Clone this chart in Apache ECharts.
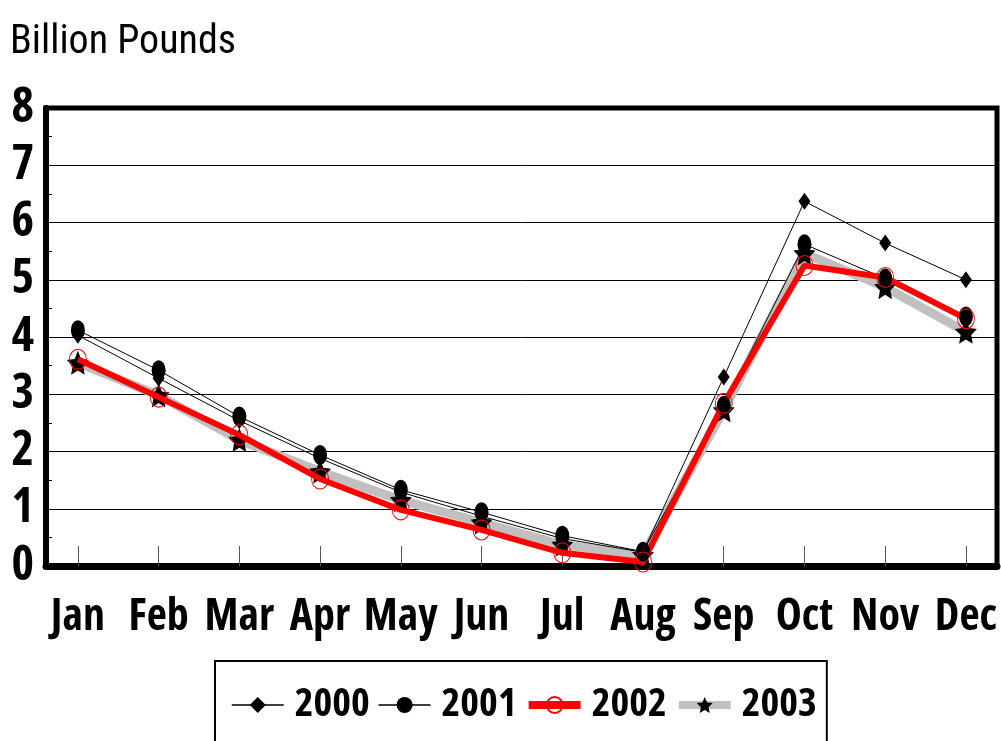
<!DOCTYPE html>
<html>
<head>
<meta charset="utf-8">
<script src="https://cdn.jsdelivr.net/npm/echarts@6/dist/echarts.min.js"></script>
<style>
  html, body { margin: 0; padding: 0; background: #fff; }
  #chart { width: 1001px; height: 741px; }
</style>
</head>
<body>
<div id="chart"></div>
<script>
const months = ['Jan', 'Feb', 'Mar', 'Apr', 'May', 'Jun', 'Jul', 'Aug', 'Sep', 'Oct', 'Nov', 'Dec']
const yearNames = ['2000', '2001', '2002', '2003']
const y2000 = [4.03, 3.28, 2.54, 1.88, 1.29, 0.87, 0.48, 0.24, 3.30, 6.37, 5.64, 5.00]
const y2001 = [4.12, 3.42, 2.61, 1.94, 1.33, 0.94, 0.53, 0.25, 2.80, 5.62, 5.02, 4.36]
const y2002 = [3.61, 2.95, 2.29, 1.52, 0.98, 0.63, 0.23, 0.07, 2.84, 5.25, 5.04, 4.32]
const y2003 = [3.55, 2.98, 2.20, 1.65, 1.15, 0.76, 0.37, 0.19, 2.72, 5.46, 4.87, 4.09]
const yTicks = [0, 1, 2, 3, 4, 5, 6, 7, 8]

// narrow faces: the variable fonts accept the css "condensed" stretch keyword
const BOLD_NARROW = { fontFamily: "'Open Sans', sans-serif", fontWeight: 'bold condensed' }
const NARROW = { fontFamily: "Roboto, sans-serif", fontWeight: 'normal condensed' }
const STAR = 'path://M50 0 L64.1 30.6 L97.55 34.55 L72.8 57.4 L79.39 90.45 L50 74 L20.61 90.45 L27.2 57.4 L2.45 34.55 L35.9 30.6 Z'

// month index -> [x, y] so the x axis can keep the edge gaps of the original
function pairs(arr) {
    return arr.map((v, i) => [i, v])
}

const legendLines = { '2000': 1.5, '2001': 1.5, '2002': 8, '2003': 8 }

const chart = echarts.init(document.getElementById('chart'))

chart.setOption({
    animation: false,
    backgroundColor: '#fff',
    title: {
        text: 'Billion Pounds',
        left: 5,
        top: 18,
        textStyle: { ...NARROW, fontSize: 40, color: '#000' }
    },
    legend: {
        data: yearNames.map(n => ({ name: n, lineStyle: { width: legendLines[n] } })),
        left: 215,
        top: 661,
        padding: [24, 10, 60, 16],
        borderColor: '#000',
        borderWidth: 2,
        itemGap: 8,
        itemWidth: 52,
        itemHeight: 20,
        textStyle: { ...BOLD_NARROW, fontSize: 40, color: '#000', padding: [0, 0, 0, 6] }
    },
    grid: {
        left: 46,
        right: 4,
        top: 108,
        bottom: 175,
        outerBoundsMode: 'none',
        show: true,
        borderColor: '#000',
        borderWidth: 5
    },
    xAxis: {
        type: 'value',
        min: -0.395,
        max: 11.385,
        splitLine: { show: false },
        axisLine: { lineStyle: { color: '#000', width: 7 } },
        axisTick: {
            customValues: months.map((m, i) => i),
            inside: true,
            length: 20,
            lineStyle: { color: '#555', width: 1 }
        },
        axisLabel: {
            customValues: months.map((m, i) => i),
            formatter: v => months[Math.round(v)],
            margin: 29,
            ...BOLD_NARROW,
            fontSize: 44,
            color: '#000'
        }
    },
    yAxis: {
        type: 'value',
        min: yTicks[0],
        max: yTicks[yTicks.length - 1],
        interval: 1,
        axisLine: { show: true, onZero: false, lineStyle: { color: '#000', width: 6 } },
        axisTick: { show: true, inside: true, length: 7, lineStyle: { color: '#000' } },
        minorTick: { show: true, splitNumber: 2, length: 6, lineStyle: { color: '#000' } },
        splitLine: { lineStyle: { color: '#000', width: 1 } },
        axisLabel: {
            margin: 12,
            ...BOLD_NARROW,
            fontSize: 48,
            color: '#000'
        }
    },
    series: [
        {
            name: '2000',
            type: 'line',
            data: pairs(y2000),
            symbol: 'diamond',
            symbolSize: [12, 17],
            itemStyle: { color: '#000' },
            lineStyle: { color: '#000', width: 1 },
            z: 3
        },
        {
            name: '2001',
            type: 'line',
            data: pairs(y2001),
            symbol: 'circle',
            symbolSize: [14, 20],
            itemStyle: { color: '#000' },
            lineStyle: { color: '#000', width: 1 },
            z: 3
        },
        {
            name: '2002',
            type: 'line',
            data: pairs(y2002),
            symbol: 'circle',
            symbolSize: [17, 20],
            itemStyle: { color: 'rgba(255,255,255,0)', borderColor: '#ff0000', borderWidth: 1 },
            lineStyle: { color: '#ff0000', width: 6 },
            z: 3
        },
        {
            name: '2003',
            type: 'line',
            data: pairs(y2003),
            symbol: STAR,
            symbolSize: [22, 24],
            itemStyle: { color: '#000' },
            lineStyle: { color: '#c0c0c0', width: 9 },
            z: 2
        }
    ]
})
</script>
</body>
</html>
